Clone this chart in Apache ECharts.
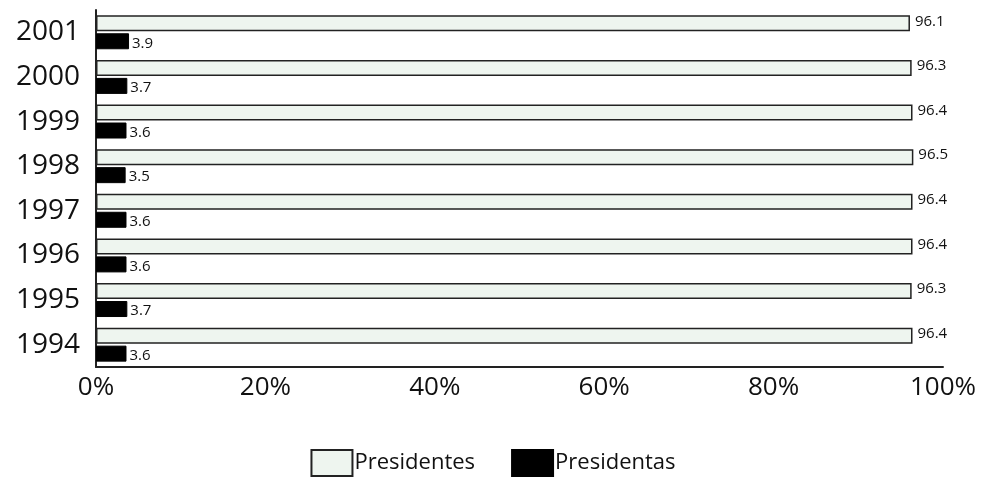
<!DOCTYPE html>
<html><head><meta charset="utf-8">
<script src="https://cdn.jsdelivr.net/npm/echarts@6/dist/echarts.min.js"></script>
<style>html,body{margin:0;padding:0;background:#fff}#c{width:986px;height:478px}</style>
</head><body><div id="c"></div>
<script>
const years = ['1994','1995','1996','1997','1998','1999','2000','2001'];
const presidentes = [96.4, 96.3, 96.4, 96.4, 96.5, 96.4, 96.3, 96.1];
const presidentas = [3.6, 3.7, 3.6, 3.6, 3.5, 3.6, 3.7, 3.9];
const xTicks = [0, 20, 40, 60, 80, 100];

const chart = echarts.init(document.getElementById('c'));
const font = 'Open Sans';
chart.setOption({
  animation: false,
  grid: {left: 96, right: 43, top: 10, bottom: 111},
  legend: {
    top: 444, left: 'center', icon: 'rect',
    data: ['Presidentes', 'Presidentas'],
    itemWidth: 41, itemHeight: 26, itemGap: 36,
    textStyle: {fontFamily: font, fontSize: 22, color: '#111', padding: [0, 0, 0, -3]}
  },
  xAxis: {
    type: 'value', min: 0, max: 100, interval: 20,
    axisLine: {show: true, lineStyle: {color: '#222', width: 2}},
    axisTick: {show: false}, splitLine: {show: false},
    axisLabel: {formatter: v => xTicks.includes(v) ? v + '%' : '', fontFamily: font, fontSize: 26, color: '#111', margin: 8}
  },
  yAxis: {
    type: 'category', data: years,
    axisLine: {show: true, lineStyle: {color: '#222', width: 2}},
    axisTick: {show: false},
    axisLabel: {fontFamily: font, fontSize: 28, color: '#111', margin: 16, padding: [6, 0, 0, 0]}
  },
  series: [
    {
      name: 'Presidentes', type: 'bar', data: presidentes,
      barWidth: 16, barGap: '12%',
      itemStyle: {color: '#eef5ef', borderColor: '#222', borderWidth: 1.5},
      label: {show: true, position: 'right', offset: [0, -2], fontFamily: font, fontSize: 15, color: '#111'}
    },
    {
      name: 'Presidentas', type: 'bar', data: presidentas,
      barWidth: 16,
      itemStyle: {color: '#000', borderColor: '#000', borderWidth: 1},
      label: {show: true, position: 'right', offset: [-2, 2], fontFamily: font, fontSize: 15, color: '#111'}
    }
  ]
});
</script></body></html>
